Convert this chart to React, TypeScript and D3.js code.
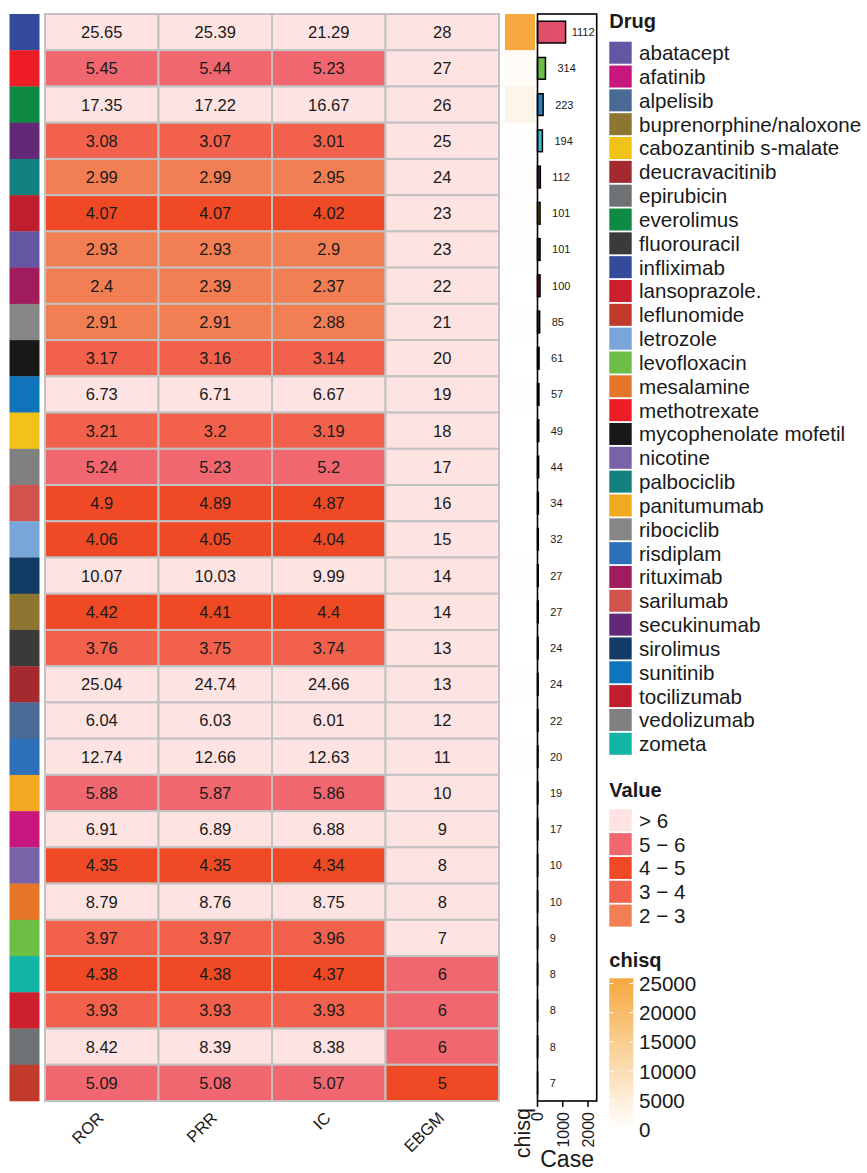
import React from "react";
import * as d3 from "d3";

// Drug for each heatmap row, top to bottom
const drugs = [
  "infliximab", "methotrexate", "everolimus", "secukinumab", "palbociclib",
  "tocilizumab", "abatacept", "rituximab", "ribociclib", "mycophenolate mofetil",
  "sunitinib", "cabozantinib s-malate", "vedolizumab", "sarilumab", "letrozole",
  "sirolimus", "buprenorphine/naloxone", "fluorouracil", "deucravacitinib", "alpelisib",
  "risdiplam", "panitumumab", "afatinib", "nicotine", "mesalamine",
  "levofloxacin", "zometa", "lansoprazole.", "epirubicin", "leflunomide",
];

const drugColors: Record<string, string> = {
  "abatacept": "#6556A3",
  "afatinib": "#C7177F",
  "alpelisib": "#486A94",
  "buprenorphine/naloxone": "#8C7631",
  "cabozantinib s-malate": "#F1C319",
  "deucravacitinib": "#A52A30",
  "epirubicin": "#6E7275",
  "everolimus": "#0E8A44",
  "fluorouracil": "#3A3A3A",
  "infliximab": "#344A9A",
  "lansoprazole.": "#CD1F2E",
  "leflunomide": "#C13A2C",
  "letrozole": "#79A6D9",
  "levofloxacin": "#6DBE45",
  "mesalamine": "#E6762A",
  "methotrexate": "#EE1D26",
  "mycophenolate mofetil": "#181818",
  "nicotine": "#7963A8",
  "palbociclib": "#128180",
  "panitumumab": "#F2A922",
  "ribociclib": "#868686",
  "risdiplam": "#2D6FB8",
  "rituximab": "#A01C5C",
  "sarilumab": "#D1534C",
  "secukinumab": "#642879",
  "sirolimus": "#123C66",
  "sunitinib": "#0F74BC",
  "tocilizumab": "#BE1E2D",
  "vedolizumab": "#808080",
  "zometa": "#13B3A6",
};

const metrics = ["ROR", "PRR", "IC", "EBGM"];

const ror = [25.65, 5.45, 17.35, 3.08, 2.99, 4.07, 2.93, 2.4, 2.91, 3.17, 6.73, 3.21, 5.24, 4.9, 4.06,
  10.07, 4.42, 3.76, 25.04, 6.04, 12.74, 5.88, 6.91, 4.35, 8.79, 3.97, 4.38, 3.93, 8.42, 5.09];
const prr = [25.39, 5.44, 17.22, 3.07, 2.99, 4.07, 2.93, 2.39, 2.91, 3.16, 6.71, 3.2, 5.23, 4.89, 4.05,
  10.03, 4.41, 3.75, 24.74, 6.03, 12.66, 5.87, 6.89, 4.35, 8.76, 3.97, 4.38, 3.93, 8.39, 5.08];
const ic = [21.29, 5.23, 16.67, 3.01, 2.95, 4.02, 2.9, 2.37, 2.88, 3.14, 6.67, 3.19, 5.2, 4.87, 4.04,
  9.99, 4.4, 3.74, 24.66, 6.01, 12.63, 5.86, 6.88, 4.34, 8.75, 3.96, 4.37, 3.93, 8.38, 5.07];
const ebgm = [28, 27, 26, 25, 24, 23, 23, 22, 21, 20, 19, 18, 17, 16, 15,
  14, 14, 13, 13, 12, 11, 10, 9, 8, 8, 7, 6, 6, 6, 5];

const cases = [1112, 314, 223, 194, 112, 101, 101, 100, 85, 61, 57, 49, 44, 34, 32,
  27, 27, 24, 24, 22, 20, 19, 17, 10, 10, 9, 8, 8, 8, 7];

const chisq = [25850, 1150, 3000, 390, 220, 250, 190, 135, 160, 130, 270, 110, 140, 100, 75,
  240, 75, 65, 540, 95, 215, 75, 85, 26, 70, 20, 20, 17, 50, 22];

const barColors = ["#E0506A", "#6DBE45", "#2B7EC2", "#40BDD0", "#6A1E62", "#7A6A14", "#3A3A3A",
  "#8B1A2A", "#1D4220", "#111111", "#111111", "#111111", "#111111", "#111111", "#111111",
  "#111111", "#111111", "#111111", "#111111", "#111111", "#111111", "#111111", "#111111",
  "#111111", "#111111", "#111111", "#111111", "#111111", "#111111", "#111111"];

// Value classes: (2,3], (3,4], (4,5], (5,6], >6
const valueBreaks = [3, 4, 5, 6];
const valueColors = ["#F27E54", "#F1614B", "#EF4A25", "#F0676F", "#FDE3E1"];
const valueLabels = ["2 \u2212 3", "3 \u2212 4", "4 \u2212 5", "5 \u2212 6", "> 6"];

const chisqTicks = [0, 5000, 10000, 15000, 20000, 25000];
const caseTicks = [0, 1000, 2000];

const FONT = "'Liberation Sans', Arial, Helvetica, sans-serif";

export default function App() {
  const W = 867;
  const H = 1173;
  const top = 14;
  const bottom = 1101;

  const rows = d3.scaleBand<number>().domain(d3.range(drugs.length)).range([top, bottom]);
  const cols = d3.scaleBand<string>().domain(metrics).range([45, 499]);
  const valueFill = (v: number) => valueColors[d3.bisectLeft(valueBreaks, v)];

  const chisqMax = 25900;
  const chisqColor = d3.scaleLinear<string>().domain([0, chisqMax]).range(["#FFFFFF", "#F5A83E"]);

  const barX = d3.scaleLinear().domain([0, 2345]).range([537.5, 596.7]);
  const barH = rows.bandwidth() * 0.6;

  const table = [ror, prr, ic, ebgm];

  const legendDrugs = [...drugs].sort(d3.ascending);
  const legPitch = 23.83;
  const legX = 609.3;
  const swatchW = 22.4;
  const swatchH = 22;
  const drugLegendTop = 41.7;
  const valueLegendTop = 809.3;
  const legFont = 20.6;

  const cbTop = 978.3;
  const cbBottom = 1130;
  const cbY = d3.scaleLinear().domain([0, chisqMax]).range([1129.5, cbTop]);

  const labelFont = 11;
  const digitW = labelFont * 0.556;

  return (
    <div style={{ position: "absolute", left: 0, top: 0 }}>
      <svg width={W} height={H} style={{ display: "block", fontFamily: FONT }}>
        <rect x={0} y={0} width={W} height={H} fill="#FFFFFF" />
        <defs>
          <linearGradient id="chisqGrad" x1="0" y1="1" x2="0" y2="0">
            {d3.range(0, 1.01, 0.25).map((t) => (
              <stop key={t} offset={t} stopColor={chisqColor(t * chisqMax)} />
            ))}
          </linearGradient>
        </defs>

        {/* drug annotation strip */}
        {drugs.map((d, i) => (
          <rect key={"ann" + i} x={9.5} y={rows(i)!} width={30} height={rows.bandwidth() + 0.3}
            fill={drugColors[d]} />
        ))}

        {/* heatmap cells */}
        {table.map((vals, c) =>
          vals.map((v, i) => (
            <rect key={`c${c}-${i}`} x={cols(metrics[c])!} y={rows(i)!} width={cols.bandwidth()}
              height={rows.bandwidth()} fill={valueFill(v)} stroke="#C2C2C2" strokeWidth={2} />
          ))
        )}
        {table.map((vals, c) =>
          vals.map((v, i) => (
            <text key={`t${c}-${i}`} x={cols(metrics[c])! + cols.bandwidth() / 2}
              y={rows(i)! + rows.bandwidth() / 2} dy="0.36em" textAnchor="middle"
              fontSize={16.5} fill="#1A1A1A">{String(v)}</text>
          ))
        )}

        {/* column names */}
        {metrics.map((m) => {
          const x = cols(m)! + cols.bandwidth() / 2 + 3;
          const y = 1119;
          return (
            <text key={"cn" + m} x={x} y={y} textAnchor="end" fontSize={16.5} fill="#1A1A1A"
              transform={`rotate(-45 ${x} ${y})`}>{m}</text>
          );
        })}

        {/* chisq annotation column */}
        {chisq.map((v, i) => (
          <rect key={"chi" + i} x={505} y={rows(i)!} width={30} height={rows.bandwidth() + 0.3}
            fill={chisqColor(v)} />
        ))}
        <text x={530} y={1108} textAnchor="end" fontSize={21.5} fill="#1A1A1A"
          transform="rotate(-90 530 1108)">chisq</text>

        {/* case bar annotation */}
        {cases.map((v, i) => (
          <rect key={"bar" + i} x={barX(0)} y={rows(i)! + (rows.bandwidth() - barH) / 2}
            width={barX(v) - barX(0)} height={barH} fill={barColors[i]} stroke="#000000"
            strokeWidth={1.5} />
        ))}
        {cases.map((v, i) => {
          const w = String(v).length * digitW;
          const xs = Math.min(barX(v) + 12, barX.range()[1] - w - 0.5);
          return (
            <text key={"bl" + i} x={xs} y={rows(i)! + rows.bandwidth() / 2} dy="0.36em"
              fontSize={labelFont} fill="#1A1A1A">{v}</text>
          );
        })}
        <rect x={barX.range()[0]} y={top} width={barX.range()[1] - barX.range()[0]}
          height={bottom - top} fill="none" stroke="#000000" strokeWidth={1.6} />
        {caseTicks.map((t) => (
          <g key={"ct" + t}>
            <line x1={barX(t)} x2={barX(t)} y1={bottom} y2={1107} stroke="#000000" strokeWidth={1.5} />
            <text x={barX(t) + 5.8} y={1112} textAnchor="end" fontSize={16} fill="#1A1A1A"
              transform={`rotate(-90 ${barX(t) + 5.8} 1112)`}>{t}</text>
          </g>
        ))}
        <text x={(barX.range()[0] + barX.range()[1]) / 2} y={1167} textAnchor="middle"
          fontSize={23} fill="#1A1A1A">Case</text>

        {/* Drug legend */}
        <text x={legX} y={28} fontSize={20} fontWeight="bold" fill="#1A1A1A">Drug</text>
        {legendDrugs.map((d, k) => {
          const y = drugLegendTop + k * legPitch;
          return (
            <g key={"ld" + d}>
              <rect x={legX} y={y} width={swatchW} height={swatchH} fill={drugColors[d]} />
              <text x={639} y={y + swatchH / 2} dy="0.36em" fontSize={legFont} fill="#1A1A1A">{d}</text>
            </g>
          );
        })}

        {/* Value legend */}
        <text x={legX} y={797} fontSize={20} fontWeight="bold" fill="#1A1A1A">Value</text>
        {valueLabels.slice().reverse().map((lab, k) => {
          const y = valueLegendTop + k * legPitch;
          const color = valueColors[valueColors.length - 1 - k];
          return (
            <g key={"lv" + lab}>
              <rect x={legX} y={y} width={swatchW} height={swatchH} fill={color} />
              <text x={639} y={y + swatchH / 2} dy="0.36em" fontSize={legFont} fill="#1A1A1A">{lab}</text>
            </g>
          );
        })}

        {/* chisq colour bar */}
        <text x={legX} y={967} fontSize={20} fontWeight="bold" fill="#1A1A1A">chisq</text>
        <rect x={legX} y={cbTop} width={24} height={cbBottom - cbTop} fill="url(#chisqGrad)" />
        {chisqTicks.map((t) => (
          <g key={"cb" + t}>
            {t > 0 && t < chisqMax && (
              <>
                <line x1={legX} x2={legX + 4} y1={cbY(t)} y2={cbY(t)} stroke="#FFFFFF" strokeWidth={1} />
                <line x1={legX + 20} x2={legX + 24} y1={cbY(t)} y2={cbY(t)} stroke="#FFFFFF" strokeWidth={1} />
              </>
            )}
            <text x={639} y={cbY(t)} dy="0.36em" fontSize={legFont} fill="#1A1A1A">{t}</text>
          </g>
        ))}
      </svg>
    </div>
  );
}
